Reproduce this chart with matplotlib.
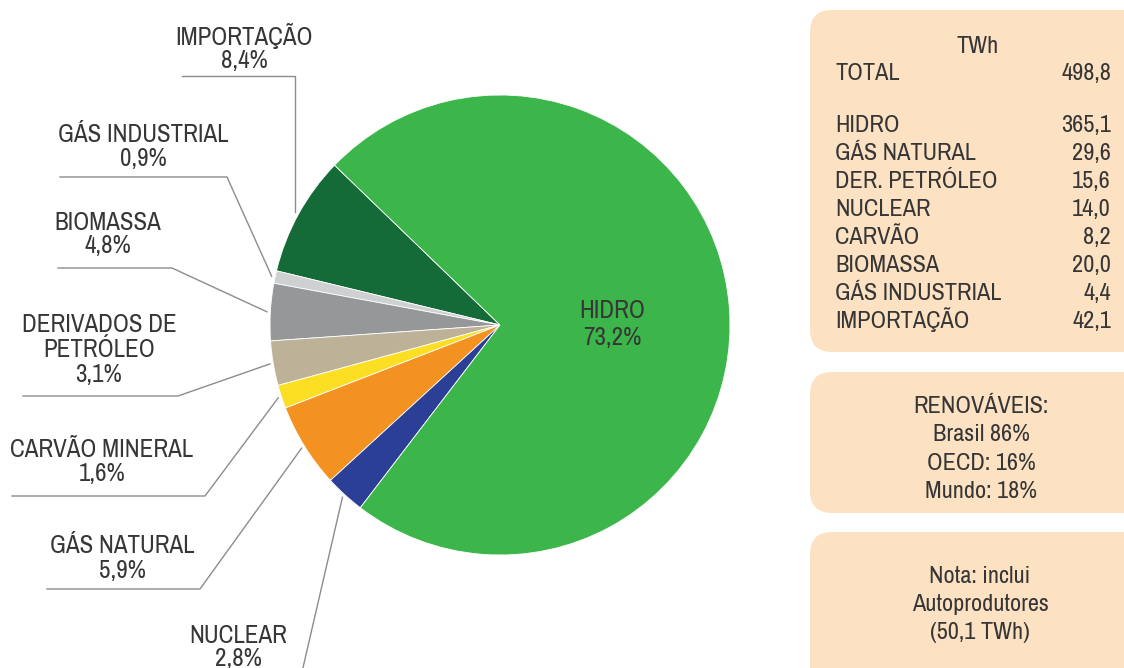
import numpy as np
import matplotlib
matplotlib.use('Agg')
import matplotlib.pyplot as plt
from matplotlib.patches import FancyBboxPatch

# data
fontes = ['IMPORTAÇÃO', 'GÁS INDUSTRIAL', 'BIOMASSA', 'DERIVADOS DE\nPETRÓLEO',
          'CARVÃO MINERAL', 'GÁS NATURAL', 'NUCLEAR', 'HIDRO']
twh = [42.1, 4.4, 20.0, 15.6, 8.2, 29.6, 14.0, 365.1]
pct = ['8,4%', '0,9%', '4,8%', '3,1%', '1,6%', '5,9%', '2,8%', '73,2%']
cores = ['#146b38', '#cfd0d2', '#959799', '#bdb198', '#fcdf22', '#f39220', '#2b3f96', '#3cb54a']

tabela_nomes = ['HIDRO', 'GÁS NATURAL', 'DER. PETRÓLEO', 'NUCLEAR', 'CARVÃO',
                'BIOMASSA', 'GÁS INDUSTRIAL', 'IMPORTAÇÃO']
tabela_valores = ['365,1', '29,6', '15,6', '14,0', '8,2', '20,0', '4,4', '42,1']
total = '498,8'
renovaveis = ['RENOVÁVEIS:', 'Brasil 86%', 'OECD: 16%', 'Mundo: 18%']
nota = ['Nota: inclui', 'Autoprodutores', '(50,1 TWh)']

plt.rcParams['font.family'] = ['Archivo Narrow', 'PT Sans Narrow', 'Roboto Condensed', 'DejaVu Sans']

W, H = 1124, 668
TXT = '#363636'
LINHA = '#8c8c8c'

fig = plt.figure(figsize=(W / 100, H / 100), dpi=100, facecolor='white')
ax = fig.add_axes([0, 0, 1, 1])

# pie in pixel coordinates (y axis inverted below, so angles run the other way)
cx, cy, r = 500, 325, 230
wedges, _ = ax.pie(twh, colors=cores, startangle=-136, counterclock=False,
                   center=(cx, cy), radius=r,
                   wedgeprops=dict(edgecolor='white', linewidth=0.6))
ax.set_xlim(0, W)
ax.set_ylim(H, 0)
ax.set_aspect('equal')
ax.axis('off')


def ponta(w, fator=1.015):
    ang = np.deg2rad((w.theta1 + w.theta2) / 2)
    return cx + r * fator * np.cos(ang), cy + r * fator * np.sin(ang)


def rotulo(x, baselines, linhas, size=18):
    for y, s in zip(baselines, linhas):
        ax.text(x, y, s, ha='center', va='baseline', fontsize=size, color=TXT)


# label layout: text x, baselines, horizontal leader (y, x_start, x_elbow)
layout = [
    (244, [45, 68], (76, 182, None)),
    (143, [142, 166], (177, 60, 227)),
    (108, [230, 253], (268, 58, 172)),
    (99, [332, 357, 382], (396, 23, 178)),
    (102, [457, 481], (496, 12, 205)),
    (122, [553, 578], (589, 47, 200)),
    (238, [643, 666], None),
]

for i, (tx, bases, leader) in enumerate(layout):
    rotulo(tx, bases, fontes[i].split('\n') + [pct[i]])
    px, py = ponta(wedges[i])
    if leader is None:
        ax.plot([302, px], [672, py], color=LINHA, lw=1)
        continue
    ly, x0, xe = leader
    if xe is None:
        ax.plot([x0, px, px], [ly, ly, py], color=LINHA, lw=1)
    else:
        ax.plot([x0, xe, px], [ly, ly, py], color=LINHA, lw=1)

# label inside HIDRO
rotulo(612, [318, 345], [fontes[-1], pct[-1]])

# side boxes
PEACH = '#fce2c3'
for y0, y1 in [(10, 352), (372, 513), (532, 690)]:
    ax.add_patch(FancyBboxPatch((810, y0), 360, y1 - y0,
                                boxstyle='round,pad=0,rounding_size=22',
                                facecolor=PEACH, edgecolor='none'))

ts = 17.5
ax.text(978, 53, 'TWh', ha='center', va='baseline', fontsize=ts, color=TXT)
ax.text(835, 80, 'TOTAL', ha='left', va='baseline', fontsize=ts, color=TXT)
ax.text(1111, 80, total, ha='right', va='baseline', fontsize=ts, color=TXT)
for i, (nome, val) in enumerate(zip(tabela_nomes, tabela_valores)):
    y = 132 + i * 28
    ax.text(835, y, nome, ha='left', va='baseline', fontsize=ts, color=TXT)
    ax.text(1111, y, val, ha='right', va='baseline', fontsize=ts, color=TXT)

for i, s in enumerate(renovaveis):
    ax.text(981, 413 + i * 28.3, s, ha='center', va='baseline', fontsize=ts, color=TXT)
for i, s in enumerate(nota):
    ax.text(980, 583 + i * 28, s, ha='center', va='baseline', fontsize=ts, color=TXT)

fig.savefig('out.png', dpi=100, facecolor='white')
